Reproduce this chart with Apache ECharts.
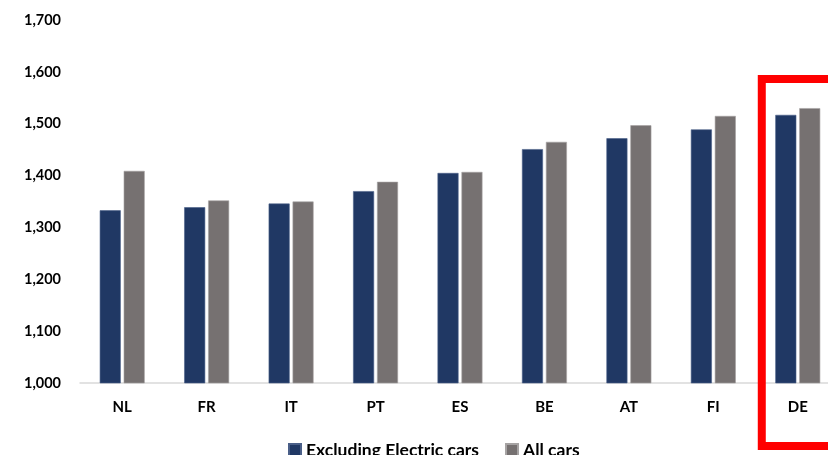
<!DOCTYPE html>
<html>
<head>
<meta charset="utf-8">
<script src="https://cdn.jsdelivr.net/npm/echarts@6/dist/echarts.min.js"></script>
<style>
  html, body { margin: 0; padding: 0; background: #fff; overflow: hidden; }
  #chart { width: 840px; height: 455px; }
</style>
</head>
<body>
<div id="chart"></div>
<script>
// Countries on the category axis
const countries = ['NL', 'FR', 'IT', 'PT', 'ES', 'BE', 'AT', 'FI', 'DE'];
// Average values per country
const excludingElectric = [1333, 1339, 1346, 1370, 1405, 1451, 1472, 1489, 1517];
const allCars = [1409, 1352, 1350, 1388, 1407, 1465, 1497, 1515, 1530];
const seriesNames = ['Excluding Electric cars', 'All cars'];
// Country picked out with a frame
const highlighted = 'DE';

const chart = echarts.init(document.getElementById('chart'));
const font = 'Lato, "Open Sans", sans-serif';

chart.setOption({
  animation: false,
  grid: { left: 80, right: 0, top: 20, bottom: 72 },
  legend: {
    data: seriesNames,
    left: 283,
    top: 436,
    itemWidth: 12,
    itemHeight: 12,
    itemGap: 26,
    icon: 'rect',
    textStyle: { fontFamily: font, fontWeight: 'bold', fontSize: 17.5, color: '#000' }
  },
  xAxis: {
    type: 'category',
    data: countries,
    axisLine: { lineStyle: { color: '#D9D9D9', width: 1.5 } },
    axisTick: { show: false },
    axisLabel: { margin: 17, fontFamily: font, fontWeight: 'bold', fontSize: 15, color: '#000' }
  },
  yAxis: {
    type: 'value',
    min: 1000,
    max: 1700,
    interval: 100,
    splitLine: { show: false },
    axisLine: { show: false },
    axisTick: { show: false },
    axisLabel: {
      margin: 19,
      fontFamily: font, fontWeight: 'bold', fontSize: 14.5, color: '#000',
      formatter: v => v.toLocaleString('en-US')
    }
  },
  series: [
    {
      name: seriesNames[0],
      type: 'bar',
      data: excludingElectric,
      barWidth: 21,
      barGap: '14%',
      itemStyle: { color: '#203864', borderColor: '#4a5f88', borderWidth: 0.6 }
    },
    {
      name: seriesNames[1],
      type: 'bar',
      data: allCars,
      barWidth: 21,
      barGap: '14%',
      itemStyle: { color: '#767171', borderColor: '#a6a3a3', borderWidth: 0.6 }
    }
  ]
});

// Frame around the highlighted country, sized from its category band
const frameX = chart.convertToPixel({ xAxisIndex: 0 }, highlighted);
const frameY = chart.convertToPixel({ yAxisIndex: 0 }, 1700) + 59;
chart.setOption({
  graphic: [{
    type: 'rect',
    shape: { x: frameX - 36, y: frameY, width: 120, height: 367 },
    style: { fill: null, stroke: '#FF0000', lineWidth: 8 },
    z: 10
  }]
});
</script>
</body>
</html>
